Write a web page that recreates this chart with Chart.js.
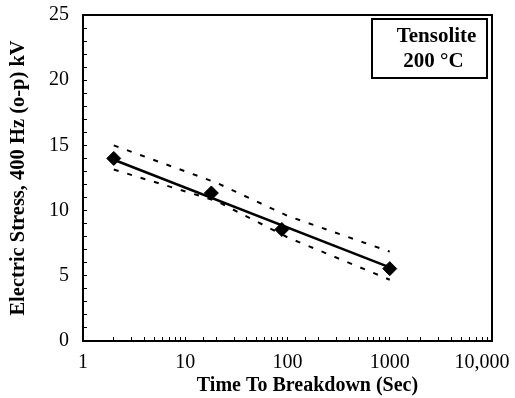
<!DOCTYPE html>
<html lang="en">
<head>
    <meta charset="UTF-8">
    <title>Electric Stress vs Time To Breakdown</title>
    <script src="https://cdn.jsdelivr.net/npm/chart.js"></script>
    <style>
        html, body { margin: 0; padding: 0; background: #fff; }
        #chart { display: block; }
    </style>
</head>
<body>
    <canvas id="chart" width="515" height="398"></canvas>

    <script>
        // Measured points (time in sec, stress in kV)
        const times = [2, 18, 88, 1000];
        const stress = [14.0, 11.35, 8.55, 5.55];

        // Regression line end points
        const fitTimes = [2, 1000];
        const fitStress = [13.9, 5.65];

        // Confidence bands
        const bandTimes = [2, 20, 100, 1000];
        const upperBand = [15.0, 12.15, 9.6, 6.85];
        const lowerBand = [13.15, 10.75, 7.95, 4.7];

        // Axis labels
        const xTickValues = [1, 10, 100, 1000, 10000];
        const xTickLabels = ['1', '10', '100', '1000', '10,000\u2003'];
        const legendLines = ['Tensolite', '200 \u00b0C'];

        const FONT = "'Liberation Serif', 'Times New Roman', serif";

        function pts(xs, ys) {
            return xs.map((x, i) => ({ x: x, y: ys[i] }));
        }

        // box around plot + the label box in the corner
        const framePlugin = {
            id: 'frame',
            afterDraw(chart) {
                const { ctx, chartArea: a } = chart;
                ctx.save();
                ctx.strokeStyle = '#000';
                ctx.lineWidth = 2;
                ctx.strokeRect(a.left, a.top, a.right - a.left, a.bottom - a.top);

                const bw = 115, bh = 59;
                const bx = a.right - 5 - bw, by = a.top + 4;
                ctx.lineWidth = 2;
                ctx.strokeRect(bx, by, bw, bh);
                ctx.fillStyle = '#000';
                ctx.font = 'bold 21px ' + FONT;
                ctx.textAlign = 'center';
                ctx.textBaseline = 'middle';
                ctx.fillText(legendLines[0], bx + bw / 2 + 7, by + 18);
                ctx.fillText(legendLines[1], bx + bw / 2 + 4, by + 43);
                ctx.restore();
            }
        };

        const ctx = document.getElementById('chart').getContext('2d');
        new Chart(ctx, {
            type: 'scatter',
            data: {
                datasets: [
                    {
                        data: pts(bandTimes, upperBand),
                        showLine: true,
                        borderColor: '#000',
                        borderWidth: 2,
                        borderDash: [5, 9],
                        pointRadius: 0
                    },
                    {
                        data: pts(bandTimes, lowerBand),
                        showLine: true,
                        borderColor: '#000',
                        borderWidth: 2,
                        borderDash: [5, 9],
                        pointRadius: 0
                    },
                    {
                        data: pts(fitTimes, fitStress),
                        showLine: true,
                        borderColor: '#000',
                        borderWidth: 2.5,
                        pointRadius: 0
                    },
                    {
                        data: pts(times, stress),
                        pointStyle: 'rectRot',
                        pointRadius: 7,
                        backgroundColor: '#000',
                        borderColor: '#000'
                    }
                ]
            },
            options: {
                responsive: false,
                animation: false,
                layout: { padding: { top: 15, right: 23, bottom: 0, left: 0 } },
                plugins: {
                    legend: { display: false },
                    tooltip: { enabled: false }
                },
                scales: {
                    x: {
                        type: 'logarithmic',
                        min: 1,
                        max: 10000,
                        border: { color: '#000', width: 2 },
                        grid: {
                            drawOnChartArea: false,
                            tickLength: -4,
                            color: '#000',
                            lineWidth: 1
                        },
                        ticks: {
                            autoSkip: false,
                            maxRotation: 0,
                            padding: 14,
                            color: '#000',
                            font: { family: FONT, size: 20 },
                            callback: (v) => {
                                const i = xTickValues.indexOf(v);
                                return i >= 0 ? xTickLabels[i] : '';
                            }
                        },
                        title: {
                            display: true,
                            // leading spaces push the title right, as in the source figure
                            text: '\u2003\u2003Time To Breakdown (Sec)',
                            color: '#000',
                            font: { family: FONT, size: 20, weight: 'bold' },
                            padding: { top: 0, bottom: 0 }
                        },
                        afterFit: (s) => { s.height = 57; s.paddingLeft = 0; s.paddingRight = 0; }
                    },
                    y: {
                        min: 0,
                        max: 25,
                        border: { color: '#000', width: 2 },
                        grid: {
                            drawOnChartArea: false,
                            tickLength: -4,
                            color: '#000',
                            lineWidth: 1
                        },
                        ticks: {
                            stepSize: 1,
                            autoSkip: false,
                            padding: 18,
                            color: '#000',
                            font: { family: FONT, size: 20 },
                            callback: (v) => (v % 5 === 0 ? String(v) : '')
                        },
                        title: {
                            display: true,
                            text: 'Electric Stress, 400 Hz (o-p) kV',
                            color: '#000',
                            font: { family: FONT, size: 20.5, weight: 'bold' },
                            padding: { top: 6, bottom: 0 }
                        },
                        afterFit: (s) => { s.width = 83; s.paddingTop = 0; s.paddingBottom = 0; }
                    }
                }
            },
            plugins: [framePlugin]
        });
    </script>
</body>
</html>
